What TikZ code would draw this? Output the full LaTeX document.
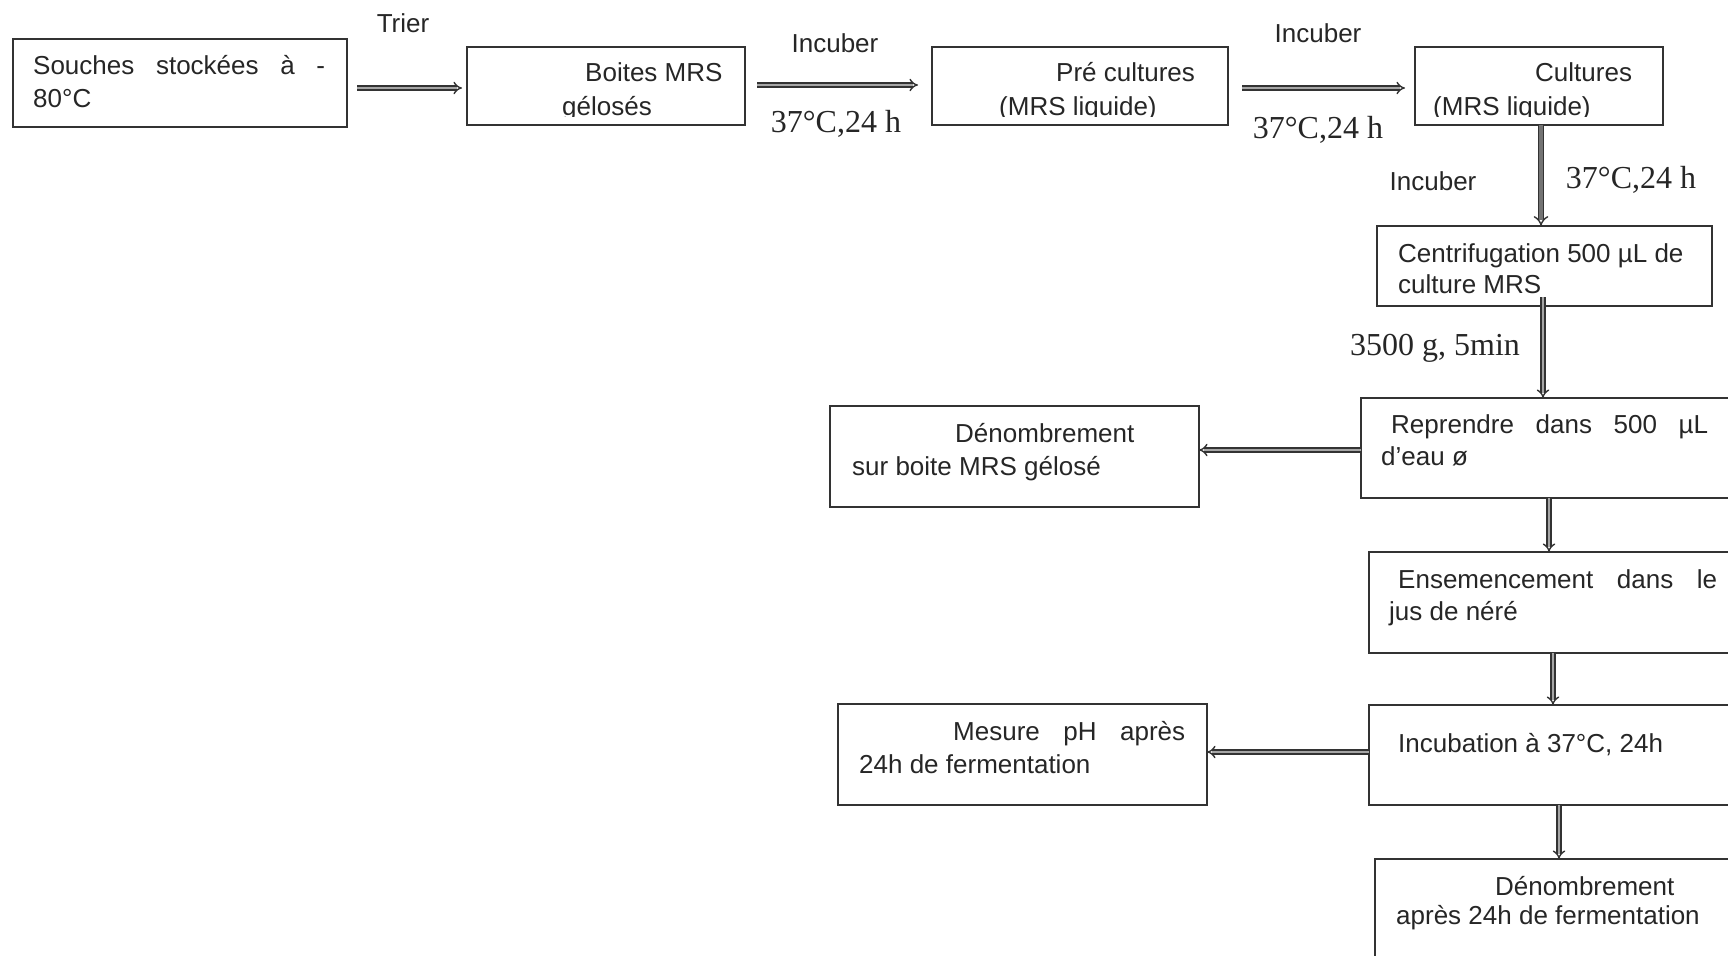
\documentclass[tikz,border=0pt]{standalone}
\usepackage{fontspec}
\setmainfont{Liberation Sans}
\newfontfamily\tms{Liberation Serif}
\usetikzlibrary{arrows.meta,calc}
\tikzset{
 box/.style={draw=black!80, line width=2pt, inner sep=0pt, outer sep=0pt},
 txt/.style={anchor=base west, inner sep=0pt, font=\fontsize{26}{31}\selectfont, text=black!85},
 lbl/.style={anchor=base, inner sep=0pt, font=\fontsize{26}{31}\selectfont, text=black!85},
 tlbl/.style={anchor=base, inner sep=0pt, font=\tms\fontsize{32}{38}\selectfont, text=black!85},
 arr/.style={draw=black!80, line width=1.4pt, double=black!35, double distance=2.8pt, -{Implies}},
 darr/.style={arr, double=black!55, double distance=3.6pt},
}
\begin{document}
\begin{tikzpicture}[x=1pt,y=-1pt]
\clip (0,0) rectangle (1728,955);
\fill[white] (0,0) rectangle (1728,955);
% boxes
\node[box, minimum width=334pt, minimum height=88pt] (b1) at (180,83) {};
\node[box, minimum width=278pt, minimum height=78pt] (b2) at (606,86) {};
\node[box, minimum width=296pt, minimum height=78pt] (b3) at (1080,86) {};
\node[box, minimum width=248pt, minimum height=78pt] (b4) at (1539,86) {};
\node[box, minimum width=335pt, minimum height=80pt] (b5) at (1544.5,266) {};
\node[box, minimum width=376pt, minimum height=100pt] (b6) at (1549,448) {};
\node[box, minimum width=369pt, minimum height=101pt] (b7) at (1014.5,456.5) {};
\node[box, minimum width=368pt, minimum height=101pt] (b8) at (1553,602.5) {};
\node[box, minimum width=368pt, minimum height=100pt] (b9) at (1553,755) {};
\node[box, minimum width=369pt, minimum height=101pt] (b10) at (1022.5,754.5) {};
\node[box, minimum width=368pt, minimum height=116pt] (b11) at (1559,917) {};
% box texts
\node[txt] (t1a) at (33,75) {\makebox[292pt][s]{Souches stockées à -}};
\node[txt] (t1b) at (33,108) {80°C};
\node[txt] (t2a) at (585,82) {Boites MRS};
\node[txt] (t3a) at (1056,82) {Pré cultures};
\node[txt] (t4a) at (1535,82) {Cultures};
\begin{scope}
\clip (460,90) rectangle (1670,117);
\node[txt] (t2b) at (562,116) {gélosés};
\node[txt] (t3b) at (999,116) {(MRS liquide)};
\node[txt] (t4b) at (1433,116) {(MRS liquide)};
\end{scope}
\node[txt] (t5a) at (1398,262) {Centrifugation 500 µL de};
\node[txt] (t5b) at (1398,293) {culture MRS};
\node[txt] (t6a) at (1391,433) {\makebox[317pt][s]{Reprendre dans 500 µL}};
\node[txt] (t6b) at (1381,465) {d’eau ø};
\node[txt] (t7a) at (955,442) {Dénombrement};
\node[txt] (t7b) at (852,475) {sur boite MRS gélosé};
\node[txt] (t8a) at (1398,588) {\makebox[319pt][s]{Ensemencement dans le}};
\node[txt] (t8b) at (1389,620) {jus de néré};
\node[txt] (t9a) at (1398,752) {Incubation à 37°C, 24h};
\node[txt] (t10a) at (953,740) {\makebox[232pt][s]{Mesure pH après}};
\node[txt] (t10b) at (859,773) {24h de fermentation};
\node[txt] (t11a) at (1495,895) {Dénombrement};
\node[txt] (t11b) at (1396,924) {après 24h de fermentation};
% labels
\node[lbl] (l1) at (403,33) {Trier};
\node[lbl] (l2) at (835,53) {Incuber};
\node[tlbl] (l3) at (836,132) {37°C,24 h};
\node[lbl] (l4) at (1318,43) {Incuber};
\node[tlbl] (l5) at (1318,139) {37°C,24 h};
\node[lbl] (l6) at (1433,190) {Incuber};
\node[tlbl] (l7) at (1631,188) {37°C,24 h};
\node[tlbl] (l8) at (1435,355) {3500 g, 5min};
% connectors
\draw[arr] ([xshift=10pt,yshift=-5pt]b1.east) -- ([xshift=-5pt,yshift=-2pt]b2.west);
\draw[arr] ([xshift=12pt,yshift=1pt]b2.east) -- ([xshift=-14pt,yshift=1pt]b3.west);
\draw[arr] ([xshift=14pt,yshift=-2pt]b3.east) -- ([xshift=-10pt,yshift=-2pt]b4.west);
\draw[darr] ([xshift=2pt]b4.south) -- ([xshift=2pt]b4.south |- b5.north);
\draw[arr] ([xshift=-1.5pt,yshift=9pt]b5.south) -- ([xshift=-1.5pt]b5.south |- b6.north);
\draw[arr] ([yshift=-2pt]b6.west) -- ([yshift=-2pt]b6.west -| b7.east);
\draw[arr] (b6.south) -- (b6.south |- b8.north);
\draw[arr] (b8.south) -- (b8.south |- b9.north);
\draw[arr] ([yshift=3pt]b9.west) -- ([yshift=3pt]b9.west -| b10.east);
\draw[arr] ([xshift=6pt]b9.south) -- ([xshift=6pt]b9.south |- b11.north);
\end{tikzpicture}
\end{document}
